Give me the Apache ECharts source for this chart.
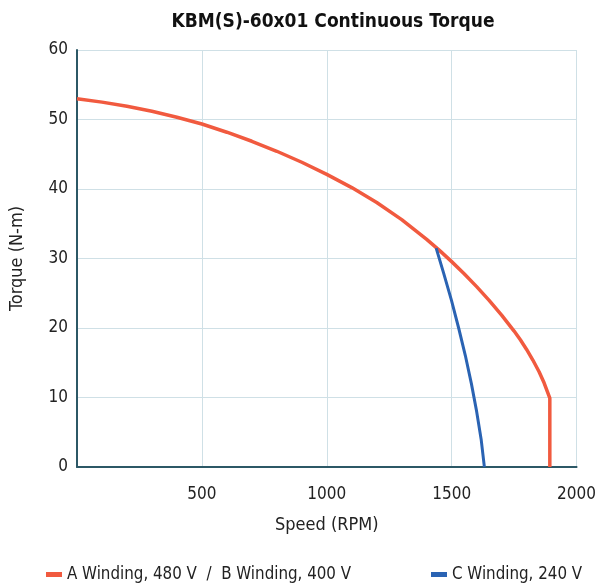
<!DOCTYPE html>
<html>
<head>
<meta charset="utf-8">
<script src="https://cdn.jsdelivr.net/npm/echarts@6/dist/echarts.min.js"></script>
<style>html,body{margin:0;padding:0;background:#fff;}#c{width:599px;height:586px;}</style>
</head>
<body>
<div id="c"></div>
<script>
const titleText = 'KBM(S)-60x01 Continuous Torque';
const xName = 'Speed (RPM)';
const yName = 'Torque (N-m)';
const seriesNames = ['A Winding, 480 V  /  B Winding, 400 V', 'C Winding, 240 V'];
const speedA = [0,100,200,300,400,500,600,700,800,900,1000,1100,1200,1300,1400,1450,1500,1550,1600,1650,1700,1750,1775,1800,1825,1850,1870,1893,1893];
const torqueA = [53.0,52.5,51.9,51.18,50.33,49.35,48.17,46.87,45.43,43.85,42.1,40.2,38.05,35.6,32.75,31.2,29.55,27.8,25.95,23.98,21.86,19.56,18.3,16.91,15.39,13.71,12.11,9.9,0];
const speedC = [1438,1467,1499,1528,1555,1579,1600,1618,1631];
const torqueC = [31.5,28,24,20,16,12,8,4,0];
const xTicks = [0,500,1000,1500,2000];

const font = "'Liberation Sans Narrow','DejaVu Sans Condensed',sans-serif";
const chart = echarts.init(document.getElementById('c'), null, {renderer:'canvas'});
const pair = (xs, ys) => xs.map((x,i)=>[x, ys[i]]);
chart.setOption({
  animation:false,
  backgroundColor:'#fff',
  title:{text:titleText,left:328,top:8,textAlign:'center',
    textStyle:{fontFamily:font,fontWeight:'bold',fontSize:19,color:'#111'}},
  grid:{left:75,right:21,top:50,bottom:119,show:false},
  legend:[
    {data:[seriesNames[0]],left:41,top:561,itemWidth:16,itemHeight:5,icon:'rect',itemGap:6,
      textStyle:{fontFamily:font,fontSize:16.8,color:'#222'}},
    {data:[seriesNames[1]],left:426,top:561,itemWidth:16,itemHeight:5,icon:'rect',
      textStyle:{fontFamily:font,fontSize:16.8,color:'#222'}}
  ],
  xAxis:{type:'value',min:xTicks[0],max:xTicks[xTicks.length-1],interval:500,
    name:xName,nameLocation:'middle',nameGap:49,
    nameTextStyle:{fontFamily:font,fontSize:18,color:'#222'},
    axisLine:{show:true,lineStyle:{color:'#2c5866',width:2}},
    axisTick:{show:false},
    axisLabel:{fontFamily:font,fontSize:17,color:'#222',margin:19,
      formatter:v=>v===0?'':String(v)},
    splitLine:{show:true,lineStyle:{color:'#cfe0e6',width:1}}},
  yAxis:{type:'value',min:0,max:60,interval:10,
    name:yName,nameLocation:'middle',nameGap:51,nameRotate:90,
    nameTextStyle:{fontFamily:font,fontSize:18,color:'#222'},
    axisLine:{show:true,lineStyle:{color:'#2c5866',width:2}},
    axisTick:{show:false},
    axisLabel:{fontFamily:font,fontSize:17,color:'#222',margin:9},
    splitLine:{show:true,lineStyle:{color:'#cfe0e6',width:1}}},
  series:[
    {name:seriesNames[0],type:'line',data:pair(speedA,torqueA),showSymbol:false,
      smooth:false,color:'#f15a3f',lineStyle:{width:3.5,color:'#f15a3f',join:'round'},z:2},
    {name:seriesNames[1],type:'line',data:pair(speedC,torqueC),showSymbol:false,
      smooth:false,color:'#2a63b3',lineStyle:{width:3,color:'#2a63b3',join:'round'},z:3}
  ]
});
</script>
</body>
</html>
